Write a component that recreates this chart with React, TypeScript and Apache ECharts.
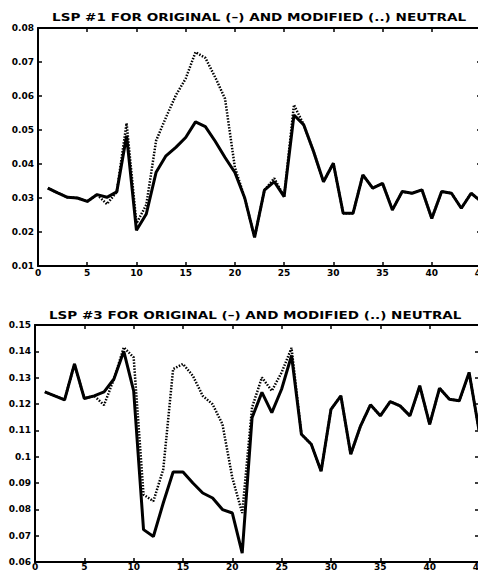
import React, { useEffect, useRef } from "react";
import * as echarts from "echarts";

const TITLE_1 = "LSP #1 FOR ORIGINAL (–) AND MODIFIED (..) NEUTRAL";
const TITLE_3 = "LSP #3 FOR ORIGINAL (–) AND MODIFIED (..) NEUTRAL";

// frame index 1..45
const FRAMES = [
  1, 2, 3, 4, 5, 6, 7, 8, 9, 10, 11, 12, 13, 14, 15, 16, 17, 18, 19, 20, 21, 22, 23,
  24, 25, 26, 27, 28, 29, 30, 31, 32, 33, 34, 35, 36, 37, 38, 39, 40, 41, 42, 43, 44, 45,
];

const LSP1_ORIGINAL = [
  0.0329, 0.0315, 0.0302, 0.03, 0.029, 0.031, 0.0302, 0.0318, 0.0483, 0.0205,
  0.0253, 0.0376, 0.0424, 0.0449, 0.0478, 0.0524, 0.051, 0.0467, 0.0419, 0.0375,
  0.03, 0.0184, 0.0323, 0.0348, 0.0304, 0.0544, 0.0515, 0.0436, 0.0348, 0.0402,
  0.0255, 0.0255, 0.0368, 0.0329, 0.0343, 0.0265, 0.0319, 0.0314, 0.0324, 0.024,
  0.0319, 0.0314, 0.027, 0.0314, 0.029,
];
const LSP1_MODIFIED = [
  0.0329, 0.0315, 0.0302, 0.03, 0.029, 0.031, 0.0282, 0.0318, 0.052, 0.0225,
  0.028, 0.0469, 0.0537, 0.0602, 0.0651, 0.0729, 0.0712, 0.0655, 0.0592, 0.039,
  0.03, 0.0184, 0.0323, 0.0358, 0.0304, 0.0574, 0.0515, 0.0436, 0.0348, 0.0402,
  0.0255, 0.0255, 0.0368, 0.0329, 0.0343, 0.0265, 0.0319, 0.0314, 0.0324, 0.024,
  0.0319, 0.0314, 0.027, 0.0314, 0.029,
];

const LSP3_ORIGINAL = [
  0.1246, 0.1231, 0.1216, 0.1352, 0.1221, 0.1231, 0.1246, 0.1295, 0.14, 0.125,
  0.0723, 0.0697, 0.0824, 0.0942, 0.0942, 0.09, 0.0862, 0.0843, 0.0799, 0.0786,
  0.0634, 0.1148, 0.1244, 0.1167, 0.1257, 0.1384, 0.1085, 0.1047, 0.0945, 0.118,
  0.1231, 0.1009, 0.1117, 0.1197, 0.1155, 0.1209, 0.1193, 0.1155, 0.1269, 0.1123,
  0.126, 0.1218, 0.1212, 0.132, 0.11,
];
const LSP3_MODIFIED = [
  0.1246, 0.1231, 0.1216, 0.1352, 0.1221, 0.1231, 0.1196, 0.1295, 0.1415, 0.1377,
  0.0856, 0.0831, 0.0952, 0.1333, 0.1352, 0.1307, 0.1231, 0.1199, 0.1123, 0.092,
  0.0786, 0.1187, 0.1301, 0.125, 0.132, 0.1413, 0.1085, 0.1047, 0.0945, 0.118,
  0.1231, 0.1009, 0.1117, 0.1197, 0.1155, 0.1209, 0.1193, 0.1155, 0.1269, 0.1123,
  0.126, 0.1218, 0.1212, 0.132, 0.11,
];

const X_MIN = 0;
const X_MAX = 45;
const X_STEP = 5;
const Y1_RANGE = [0.01, 0.08];
const Y3_RANGE = [0.06, 0.15];
const Y_STEP = 0.01;

const FONT = "DejaVu Sans";

function pairs(vals: number[]) {
  return vals.map((v, i) => [FRAMES[i], v]);
}

function fmt(v: number) {
  return String(+v.toFixed(2));
}

export default function App() {
  const ref = useRef<HTMLDivElement>(null);

  useEffect(() => {
    if (!ref.current) return;
    const chart = echarts.init(ref.current, null, { renderer: "svg" });

    const axisLine = { show: true, onZero: false, lineStyle: { color: "#000", width: 2 } };
    const axisTick = { show: true, inside: true, length: 4, lineStyle: { color: "#000", width: 1.5 } };
    const label = {
      color: "#000",
      fontFamily: FONT,
      fontWeight: "bold" as const,
      fontSize: 9,
    };

    const xAxes: any[] = [];
    const yAxes: any[] = [];
    [0, 1].forEach((g) => {
      xAxes.push({
        type: "value",
        gridIndex: g,
        min: X_MIN,
        max: X_MAX,
        interval: X_STEP,
        position: "bottom",
        axisLine,
        axisTick,
        axisLabel:
          g === 0
            ? { ...label, margin: 2, showMaxLabel: true }
            : { ...label, margin: 1, lineHeight: 8, showMaxLabel: true },
        splitLine: { show: false },
      });
      xAxes.push({
        type: "value",
        gridIndex: g,
        min: X_MIN,
        max: X_MAX,
        interval: X_STEP,
        position: "top",
        axisLine,
        axisTick,
        axisLabel: { show: false },
        splitLine: { show: false },
      });
      const r = g === 0 ? Y1_RANGE : Y3_RANGE;
      yAxes.push({
        type: "value",
        gridIndex: g,
        min: r[0],
        max: r[1],
        interval: Y_STEP,
        position: "left",
        axisLine,
        axisTick,
        axisLabel: { ...label, margin: 4, formatter: fmt },
        splitLine: { show: false },
      });
      yAxes.push({
        type: "value",
        gridIndex: g,
        min: r[0],
        max: r[1],
        interval: Y_STEP,
        position: "right",
        axisLine,
        axisTick,
        axisLabel: { show: false },
        splitLine: { show: false },
      });
    });

    const dotted = (data: number[], g: number) => ({
      type: "line",
      xAxisIndex: g * 2,
      yAxisIndex: g * 2,
      data: pairs(data),
      symbol: "none",
      lineStyle: { color: "#000", width: 2.5, type: [1.5, 1.5] },
      z: 2,
    });
    const solid = (data: number[], g: number) => ({
      type: "line",
      xAxisIndex: g * 2,
      yAxisIndex: g * 2,
      data: pairs(data),
      symbol: "none",
      lineStyle: { color: "#000", width: 3 },
      z: 3,
    });

    const titleStyle = {
      fill: "#000",
      font: `bold 11px "${FONT}"`,
      textAlign: "left",
      textVerticalAlign: "middle",
    };

    chart.setOption({
      animation: false,
      backgroundColor: "#fff",
      grid: [
        { left: 38, top: 28, width: 443, height: 238, outerBoundsMode: "none", containLabel: false },
        { left: 35, top: 325, width: 444, height: 237, outerBoundsMode: "none", containLabel: false },
      ],
      xAxis: xAxes,
      yAxis: yAxes,
      graphic: [
        {
          type: "text",
          x: 52,
          y: 17,
          scaleX: 1.235,
          style: { ...titleStyle, text: TITLE_1 },
        },
        {
          type: "text",
          x: 49,
          y: 315,
          scaleX: 1.23,
          style: { ...titleStyle, text: TITLE_3 },
        },
      ],
      series: [
        dotted(LSP1_MODIFIED, 0),
        solid(LSP1_ORIGINAL, 0),
        dotted(LSP3_MODIFIED, 1),
        solid(LSP3_ORIGINAL, 1),
      ],
    });

    return () => chart.dispose();
  }, []);

  return (
    <div
      ref={ref}
      style={{ position: "absolute", left: 0, top: 0, width: 478, height: 571, overflow: "hidden" }}
    />
  );
}
